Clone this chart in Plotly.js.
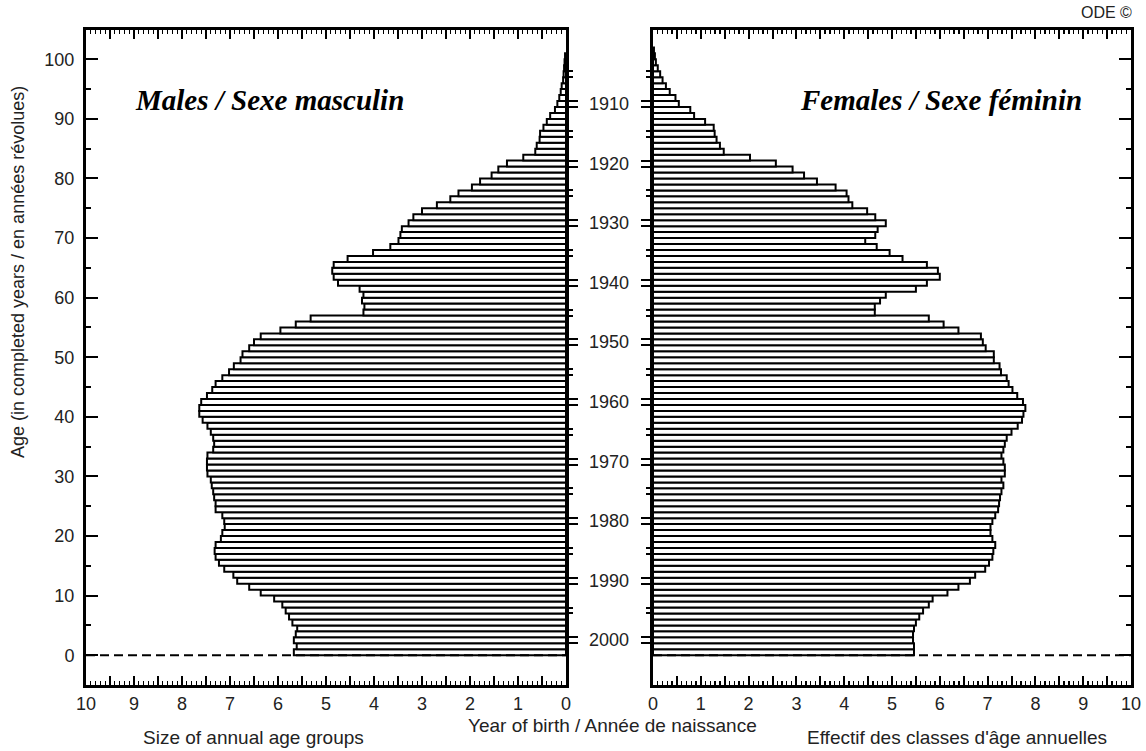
<!DOCTYPE html>
<html>
<head>
<meta charset="utf-8">
<script src="https://cdn.plot.ly/plotly-3.0.1.min.js"></script>
<style>html,body{margin:0;padding:0;background:#fff;}#chart{width:1146px;height:751px;}</style>
</head>
<body>
<div id="chart"></div>
<script>
// ---- data (thousands per single-year age group, reference year 2002) ----
const ages = [0,1,2,3,4,5,6,7,8,9,10,11,12,13,14,15,16,17,18,19,20,21,22,23,24,25,26,27,28,29,30,31,32,33,34,35,36,37,38,39,40,41,42,43,44,45,46,47,48,49,50,51,52,53,54,55,56,57,58,59,60,61,62,63,64,65,66,67,68,69,70,71,72,73,74,75,76,77,78,79,80,81,82,83,84,85,86,87,88,89,90,91,92,93,94,95,96,97,98,99,100,101];

const males = [5.67,5.61,5.67,5.63,5.60,5.70,5.77,5.84,5.91,6.08,
  6.36,6.60,6.85,6.93,7.12,7.23,7.30,7.32,7.30,7.19,
  7.16,7.11,7.12,7.16,7.30,7.30,7.33,7.35,7.38,7.40,
  7.47,7.48,7.48,7.47,7.35,7.33,7.35,7.40,7.47,7.57,
  7.64,7.64,7.60,7.48,7.37,7.30,7.16,7.02,6.92,6.78,
  6.74,6.60,6.50,6.36,5.95,5.63,5.32,4.22,4.20,4.25,
  4.22,4.30,4.75,4.84,4.87,4.84,4.55,4.02,3.66,3.49,
  3.45,3.42,3.28,3.18,3.00,2.69,2.41,2.24,1.96,1.79,
  1.55,1.41,1.23,0.89,0.64,0.61,0.55,0.54,0.47,0.40,
  0.33,0.23,0.18,0.14,0.11,0.09,0.06,0.05,0.04,0.03,0.02];

const females = [5.46,5.46,5.44,5.44,5.46,5.50,5.57,5.65,5.77,5.85,
  6.16,6.39,6.63,6.74,6.95,7.03,7.10,7.12,7.16,7.10,
  7.06,7.06,7.10,7.16,7.22,7.24,7.26,7.29,7.33,7.29,
  7.36,7.36,7.33,7.29,7.33,7.36,7.40,7.50,7.63,7.72,
  7.75,7.79,7.74,7.62,7.52,7.44,7.40,7.28,7.25,7.13,
  7.13,6.96,6.90,6.86,6.39,6.08,5.77,4.64,4.64,4.75,
  4.87,5.50,5.73,6.00,5.96,5.73,5.22,4.95,4.68,4.44,
  4.65,4.70,4.87,4.65,4.48,4.17,4.09,4.05,3.82,3.43,
  3.16,2.92,2.57,2.03,1.48,1.40,1.33,1.29,1.27,1.09,
  0.86,0.78,0.54,0.47,0.35,0.27,0.20,0.15,0.10,0.06,0.04,0.02];

const referenceYear = 2002;
const decadeYears = [1910,1920,1930,1940,1950,1960,1970,1980,1990,2000];
const halfDecadeYears = [1905,1915,1925,1935,1945,1955,1965,1975,1985,1995];
const sizeTickLabels = ['0','1','2','3','4','5','6','7','8','9','10'];
const ageTickLabels = ['0','10','20','30','40','50','60','70','80','90','100'];

// ---- derived positions ----
const W = 1146, H = 751;
const maleDom = [86/W, 566/W];
const femDom = [653/W, 1131/W];
const yDom = [(H-685)/H, (H-29.5)/H];
const yRange = [-5, 105];

const xTickVals = [], xTickText = [];
for (let i = 0; i <= 20; i++) {
  xTickVals.push(i/2);
  xTickText.push(i % 2 === 0 ? sizeTickLabels[i/2] : '');
}
// cohort Y occupies ages [ref-Y, ref-Y+1]
const decadeTicks = [], halfTicks = [];
decadeYears.forEach(y => { decadeTicks.push(referenceYear - y, referenceYear - y + 1); });
halfDecadeYears.forEach(y => { halfTicks.push(referenceYear - y, referenceYear - y + 1); });

const tickFont = {family: 'Liberation Sans, Arial, sans-serif', size: 18, color: '#222'};
const labelFont = {family: 'Liberation Sans, Arial, sans-serif', size: 19, color: '#222'};
const barLine = {color: 'black', width: 2};

const traces = [
  {type: 'bar', orientation: 'h', x: males, y: ages.slice(0, males.length), base: 0,
   width: 1, offset: 0, xaxis: 'x', yaxis: 'y',
   marker: {color: 'white', line: barLine}, hoverinfo: 'skip'},
  {type: 'bar', orientation: 'h', x: females, y: ages.slice(0, females.length), base: 0,
   width: 1, offset: 0, xaxis: 'x2', yaxis: 'y2',
   marker: {color: 'white', line: barLine}, hoverinfo: 'skip'},
  {type: 'scatter', x: [], y: [], xaxis: 'x', yaxis: 'y3', hoverinfo: 'skip', showlegend: false},
  {type: 'scatter', x: [], y: [], xaxis: 'x2', yaxis: 'y4', hoverinfo: 'skip', showlegend: false}
];

function sizeAxis(domain, range, anchor) {
  return {
    domain: domain, range: range, anchor: anchor,
    tickmode: 'array', tickvals: xTickVals, ticktext: xTickText,
    ticks: 'inside', ticklen: 9, tickwidth: 2, tickcolor: 'black',
    minor: {tickmode: 'linear', tick0: 0, dtick: 0.1, ticks: 'inside', ticklen: 4, tickwidth: 1.3, tickcolor: 'black', showgrid: false},
    showline: true, linewidth: 3, linecolor: 'black', mirror: 'ticks',
    showgrid: false, zeroline: false, fixedrange: true,
    tickfont: tickFont, ticklabelstandoff: 0
  };
}
function ageAxis(anchor, side, showLabels) {
  return {
    domain: yDom, range: yRange, anchor: anchor, side: side,
    tickmode: 'array', tickvals: ageTickLabels.map(Number), ticktext: ageTickLabels,
    ticks: 'inside', ticklen: 12, tickwidth: 2, tickcolor: 'black',
    minor: {tickmode: 'linear', tick0: 0, dtick: 5, ticks: 'inside', ticklen: 5, tickwidth: 2, tickcolor: 'black', showgrid: false},
    showline: true, linewidth: 3, linecolor: 'black', mirror: true,
    showgrid: false, zeroline: false, fixedrange: true,
    showticklabels: showLabels, tickfont: tickFont, ticklabelstandoff: 5
  };
}
function cohortAxis(overlay, anchor, side) {
  return {
    overlaying: overlay, anchor: anchor, side: side, range: yRange,
    tickmode: 'array', tickvals: decadeTicks, ticks: 'outside', ticklen: 11, tickwidth: 2, tickcolor: 'black',
    minor: {tickmode: 'array', tickvals: halfTicks, ticks: 'outside', ticklen: 6, tickwidth: 2, tickcolor: 'black', showgrid: false},
    showticklabels: false, showline: false, showgrid: false, zeroline: false, fixedrange: true
  };
}

const annotations = [];
decadeYears.forEach(y => {
  annotations.push({xref: 'paper', yref: 'y', x: 609/W, y: referenceYear - y + 0.5,
    text: String(y), showarrow: false, xanchor: 'center', yanchor: 'middle',
    font: tickFont});
});
const serif = {family: 'Liberation Serif, Times New Roman, serif', size: 29, color: 'black'};
annotations.push(
  {xref: 'paper', yref: 'paper', x: 269/W, y: (H-100)/H, text: '<b><i>Males / Sexe masculin</i></b>',
   showarrow: false, xanchor: 'center', yanchor: 'middle', font: serif},
  {xref: 'paper', yref: 'paper', x: 941/W, y: (H-100)/H, text: '<b><i>Females / Sexe féminin</i></b>',
   showarrow: false, xanchor: 'center', yanchor: 'middle', font: serif},
  {xref: 'paper', yref: 'paper', x: 253/W, y: (H-737)/H, text: 'Size of annual age groups',
   showarrow: false, xanchor: 'center', yanchor: 'middle', font: labelFont},
  {xref: 'paper', yref: 'paper', x: 612/W, y: (H-725)/H, text: 'Year of birth / Année de naissance',
   showarrow: false, xanchor: 'center', yanchor: 'middle', font: labelFont},
  {xref: 'paper', yref: 'paper', x: 957/W, y: (H-737)/H, text: 'Effectif des classes d\'âge annuelles',
   showarrow: false, xanchor: 'center', yanchor: 'middle', font: labelFont},
  {xref: 'paper', yref: 'paper', x: 18/W, y: (H-272)/H, text: 'Age (in completed years / en années révolues)',
   showarrow: false, xanchor: 'center', yanchor: 'middle', textangle: -90, font: tickFont},
  {xref: 'paper', yref: 'paper', x: 1106/W, y: (H-13)/H, text: 'ODE ©',
   showarrow: false, xanchor: 'center', yanchor: 'middle',
   font: {family: 'Liberation Sans, Arial, sans-serif', size: 16, color: '#222'}}
);

const shapes = [
  {type: 'line', xref: 'x domain', yref: 'y', x0: 0, x1: 1, y0: 0, y1: 0, layer: 'above',
   line: {color: 'black', width: 2, dash: '9px,5px'}},
  {type: 'line', xref: 'x2 domain', yref: 'y2', x0: 0, x1: 1, y0: 0, y1: 0, layer: 'above',
   line: {color: 'black', width: 2, dash: '9px,5px'}}
];

const layout = {
  width: W, height: H,
  margin: {l: 0, r: 0, t: 0, b: 0},
  paper_bgcolor: 'white', plot_bgcolor: 'white',
  showlegend: false, barmode: 'overlay',
  xaxis: sizeAxis(maleDom, [10, 0], 'y'),
  xaxis2: sizeAxis(femDom, [0, 10], 'y2'),
  yaxis: ageAxis('x', 'left', true),
  yaxis2: ageAxis('x2', 'right', false),
  yaxis3: cohortAxis('y', 'x', 'right'),
  yaxis4: cohortAxis('y2', 'x2', 'left'),
  annotations: annotations,
  shapes: shapes,
  font: tickFont
};

Plotly.newPlot('chart', traces, layout, {staticPlot: true, displayModeBar: false});
</script>
</body>
</html>
